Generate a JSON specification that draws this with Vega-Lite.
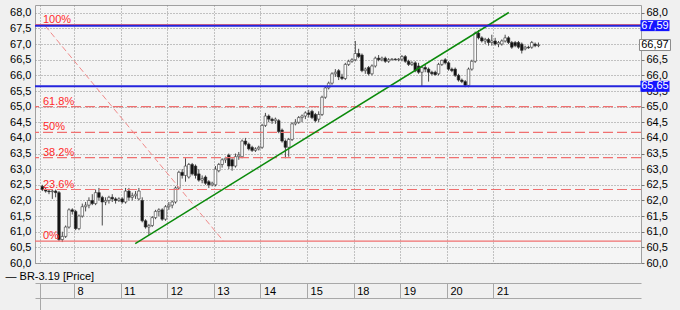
{
  "$schema": "https://vega.github.io/schema/vega-lite/v6.json",
  "width": 606,
  "height": 258,
  "autosize": {"type": "none"},
  "padding": {"left": 35, "top": 5, "right": 39, "bottom": 47},
  "background": "#f0f0f0",
  "config": {
    "font": "Liberation Sans",
    "view": {"fill": "#f5f5f5", "stroke": "#a0a0a0", "strokeWidth": 1},
    "axis": {"labelFont": "Liberation Sans", "labelFontSize": 11, "labelColor": "#000000", "titleFont": "Liberation Sans"}
  },
  "datasets": {
    "candles": [
      {"i":0,"o":62.45,"h":62.5,"l":62.3,"c":62.35},
      {"i":1,"o":62.35,"h":62.4,"l":62.25,"c":62.3},
      {"i":2,"o":62.3,"h":62.35,"l":62.2,"c":62.28},
      {"i":3,"o":62.28,"h":62.35,"l":62.05,"c":62.3},
      {"i":4,"o":62.3,"h":62.35,"l":62.1,"c":62.25},
      {"i":5,"o":62.25,"h":62.3,"l":60.7,"c":60.75},
      {"i":6,"o":60.75,"h":61.0,"l":60.67,"c":60.85},
      {"i":7,"o":60.85,"h":61.2,"l":60.8,"c":61.15},
      {"i":8,"o":61.15,"h":61.75,"l":61.1,"c":61.7},
      {"i":9,"o":61.7,"h":61.75,"l":61.55,"c":61.65},
      {"i":10,"o":61.65,"h":61.7,"l":61.05,"c":61.1},
      {"i":11,"o":61.1,"h":61.55,"l":61.05,"c":61.5},
      {"i":12,"o":61.5,"h":61.9,"l":61.45,"c":61.8},
      {"i":13,"o":61.8,"h":61.95,"l":61.65,"c":61.85},
      {"i":14,"o":61.85,"h":62.1,"l":61.75,"c":62.0},
      {"i":15,"o":62.0,"h":62.2,"l":61.85,"c":61.9},
      {"i":16,"o":61.9,"h":62.35,"l":61.85,"c":62.25},
      {"i":17,"o":62.25,"h":62.4,"l":62.0,"c":62.1},
      {"i":18,"o":62.1,"h":62.15,"l":61.2,"c":61.95},
      {"i":19,"o":61.95,"h":62.1,"l":61.85,"c":62.0},
      {"i":20,"o":62.0,"h":62.15,"l":61.9,"c":62.1},
      {"i":21,"o":62.1,"h":62.2,"l":61.95,"c":62.05},
      {"i":22,"o":62.05,"h":62.1,"l":61.9,"c":62.0},
      {"i":23,"o":62.0,"h":62.1,"l":61.95,"c":62.05},
      {"i":24,"o":62.05,"h":62.1,"l":61.9,"c":61.95},
      {"i":25,"o":61.95,"h":62.4,"l":61.9,"c":62.3},
      {"i":26,"o":62.3,"h":62.4,"l":62.0,"c":62.1},
      {"i":27,"o":62.1,"h":62.25,"l":62.0,"c":62.15},
      {"i":28,"o":62.15,"h":62.3,"l":62.05,"c":62.2},
      {"i":29,"o":62.05,"h":62.4,"l":62.0,"c":62.3},
      {"i":30,"o":62.0,"h":62.1,"l":61.3,"c":61.35},
      {"i":31,"o":61.35,"h":61.4,"l":61.1,"c":61.15},
      {"i":32,"o":61.15,"h":61.25,"l":60.9,"c":61.2},
      {"i":33,"o":61.2,"h":61.5,"l":61.15,"c":61.45},
      {"i":34,"o":61.45,"h":61.7,"l":61.4,"c":61.65},
      {"i":35,"o":61.65,"h":61.75,"l":61.5,"c":61.7},
      {"i":36,"o":61.7,"h":61.75,"l":61.35,"c":61.4},
      {"i":37,"o":61.4,"h":61.85,"l":61.35,"c":61.8},
      {"i":38,"o":61.8,"h":61.95,"l":61.7,"c":61.85},
      {"i":39,"o":61.85,"h":62.0,"l":61.75,"c":61.95},
      {"i":40,"o":61.95,"h":62.45,"l":61.9,"c":62.4},
      {"i":41,"o":62.4,"h":62.95,"l":62.35,"c":62.9},
      {"i":42,"o":62.9,"h":63.0,"l":62.7,"c":62.8},
      {"i":43,"o":62.8,"h":63.35,"l":62.6,"c":63.1},
      {"i":44,"o":62.75,"h":63.2,"l":62.7,"c":63.15},
      {"i":45,"o":63.15,"h":63.2,"l":62.8,"c":62.85},
      {"i":46,"o":63.1,"h":63.15,"l":62.7,"c":62.8},
      {"i":47,"o":62.85,"h":63.0,"l":62.6,"c":62.65},
      {"i":48,"o":62.65,"h":62.8,"l":62.55,"c":62.7},
      {"i":49,"o":62.75,"h":62.8,"l":62.5,"c":62.55},
      {"i":50,"o":62.6,"h":62.65,"l":62.4,"c":62.5},
      {"i":51,"o":62.5,"h":62.6,"l":62.45,"c":62.55},
      {"i":52,"o":62.5,"h":63.1,"l":62.45,"c":63.0},
      {"i":53,"o":62.95,"h":63.2,"l":62.9,"c":63.15},
      {"i":54,"o":63.15,"h":63.35,"l":63.05,"c":63.3},
      {"i":55,"o":63.3,"h":63.4,"l":63.2,"c":63.35},
      {"i":56,"o":63.45,"h":63.5,"l":63.0,"c":63.1},
      {"i":57,"o":63.3,"h":63.35,"l":62.95,"c":63.1},
      {"i":58,"o":63.1,"h":63.5,"l":63.05,"c":63.4},
      {"i":59,"o":63.4,"h":63.55,"l":63.3,"c":63.45},
      {"i":60,"o":63.4,"h":63.95,"l":63.35,"c":63.9},
      {"i":61,"o":63.9,"h":64.0,"l":63.75,"c":63.8},
      {"i":62,"o":63.8,"h":63.85,"l":63.6,"c":63.65},
      {"i":63,"o":63.7,"h":63.75,"l":63.55,"c":63.6},
      {"i":64,"o":63.6,"h":63.7,"l":63.55,"c":63.65},
      {"i":65,"o":63.65,"h":63.75,"l":63.6,"c":63.7},
      {"i":66,"o":63.7,"h":64.45,"l":63.65,"c":64.4},
      {"i":67,"o":64.4,"h":64.8,"l":64.35,"c":64.7},
      {"i":68,"o":64.7,"h":64.75,"l":64.5,"c":64.6},
      {"i":69,"o":64.6,"h":64.65,"l":64.45,"c":64.55},
      {"i":70,"o":64.55,"h":64.65,"l":64.45,"c":64.6},
      {"i":71,"o":64.55,"h":64.6,"l":64.15,"c":64.2},
      {"i":72,"o":64.25,"h":64.3,"l":63.85,"c":63.9},
      {"i":73,"o":63.9,"h":63.95,"l":63.35,"c":63.7},
      {"i":74,"o":63.7,"h":64.0,"l":63.4,"c":63.95},
      {"i":75,"o":63.95,"h":64.5,"l":63.9,"c":64.45},
      {"i":76,"o":64.45,"h":64.6,"l":64.4,"c":64.5},
      {"i":77,"o":64.5,"h":64.7,"l":64.45,"c":64.65},
      {"i":78,"o":64.65,"h":64.75,"l":64.5,"c":64.7},
      {"i":79,"o":64.7,"h":64.85,"l":64.6,"c":64.8},
      {"i":80,"o":64.8,"h":64.9,"l":64.65,"c":64.75},
      {"i":81,"o":64.85,"h":64.9,"l":64.6,"c":64.65},
      {"i":82,"o":64.75,"h":64.8,"l":64.5,"c":64.55},
      {"i":83,"o":64.6,"h":64.85,"l":64.5,"c":64.75},
      {"i":84,"o":64.75,"h":65.35,"l":64.7,"c":65.3},
      {"i":85,"o":65.3,"h":65.65,"l":65.25,"c":65.6},
      {"i":86,"o":65.6,"h":65.8,"l":65.55,"c":65.75},
      {"i":87,"o":65.75,"h":66.1,"l":65.7,"c":66.05},
      {"i":88,"o":66.05,"h":66.2,"l":65.95,"c":66.1},
      {"i":89,"o":66.15,"h":66.2,"l":65.85,"c":65.95},
      {"i":90,"o":65.95,"h":66.05,"l":65.85,"c":65.9},
      {"i":91,"o":65.9,"h":66.4,"l":65.85,"c":66.35},
      {"i":92,"o":66.35,"h":66.5,"l":66.3,"c":66.45},
      {"i":93,"o":66.45,"h":66.55,"l":66.4,"c":66.5},
      {"i":94,"o":66.5,"h":67.1,"l":66.45,"c":66.7},
      {"i":95,"o":66.7,"h":66.85,"l":66.55,"c":66.6},
      {"i":96,"o":66.65,"h":66.7,"l":66.1,"c":66.15},
      {"i":97,"o":66.15,"h":66.25,"l":66.05,"c":66.2},
      {"i":98,"o":66.25,"h":66.3,"l":66.0,"c":66.05},
      {"i":99,"o":66.05,"h":66.35,"l":66.0,"c":66.3},
      {"i":100,"o":66.3,"h":66.6,"l":66.25,"c":66.55},
      {"i":101,"o":66.55,"h":66.65,"l":66.45,"c":66.5},
      {"i":102,"o":66.5,"h":66.6,"l":66.45,"c":66.55},
      {"i":103,"o":66.55,"h":66.6,"l":66.4,"c":66.45},
      {"i":104,"o":66.45,"h":66.55,"l":66.4,"c":66.5},
      {"i":105,"o":66.5,"h":66.55,"l":66.48,"c":66.52},
      {"i":106,"o":66.52,"h":66.55,"l":66.48,"c":66.5},
      {"i":107,"o":66.5,"h":66.55,"l":66.45,"c":66.52},
      {"i":108,"o":66.52,"h":66.65,"l":66.45,"c":66.6},
      {"i":109,"o":66.6,"h":66.65,"l":66.4,"c":66.45},
      {"i":110,"o":66.45,"h":66.5,"l":66.3,"c":66.35},
      {"i":111,"o":66.35,"h":66.45,"l":66.3,"c":66.4},
      {"i":112,"o":66.4,"h":66.45,"l":66.1,"c":66.15},
      {"i":113,"o":66.3,"h":66.4,"l":66.05,"c":66.1},
      {"i":114,"o":66.1,"h":66.3,"l":65.63,"c":66.25},
      {"i":115,"o":66.25,"h":66.35,"l":66.1,"c":66.2},
      {"i":116,"o":66.2,"h":66.25,"l":65.8,"c":66.1},
      {"i":117,"o":66.1,"h":66.15,"l":66.0,"c":66.05},
      {"i":118,"o":66.1,"h":66.15,"l":66.0,"c":66.02},
      {"i":119,"o":66.05,"h":66.4,"l":66.0,"c":66.35},
      {"i":120,"o":66.35,"h":66.5,"l":66.3,"c":66.48},
      {"i":121,"o":66.5,"h":66.55,"l":66.35,"c":66.4},
      {"i":122,"o":66.4,"h":66.45,"l":66.15,"c":66.2},
      {"i":123,"o":66.2,"h":66.25,"l":66.1,"c":66.15},
      {"i":124,"o":66.2,"h":66.25,"l":65.95,"c":66.0},
      {"i":125,"o":66.0,"h":66.05,"l":65.8,"c":65.85},
      {"i":126,"o":65.85,"h":65.9,"l":65.75,"c":65.8},
      {"i":127,"o":65.8,"h":65.85,"l":65.62,"c":65.68},
      {"i":128,"o":65.68,"h":66.25,"l":65.62,"c":66.2},
      {"i":129,"o":66.2,"h":66.5,"l":66.15,"c":66.45},
      {"i":130,"o":66.45,"h":67.4,"l":66.4,"c":67.35},
      {"i":131,"o":67.35,"h":67.45,"l":67.15,"c":67.2},
      {"i":132,"o":67.2,"h":67.25,"l":67.05,"c":67.1},
      {"i":133,"o":67.1,"h":67.2,"l":67.0,"c":67.15},
      {"i":134,"o":67.15,"h":67.2,"l":66.95,"c":67.05},
      {"i":135,"o":67.05,"h":67.3,"l":66.95,"c":67.1},
      {"i":136,"o":67.1,"h":67.2,"l":66.95,"c":67.0},
      {"i":137,"o":67.0,"h":67.1,"l":66.9,"c":67.05},
      {"i":138,"o":67.0,"h":67.15,"l":66.95,"c":67.1},
      {"i":139,"o":67.1,"h":67.3,"l":67.05,"c":67.2},
      {"i":140,"o":67.2,"h":67.25,"l":67.0,"c":67.05},
      {"i":141,"o":67.05,"h":67.1,"l":66.85,"c":66.9},
      {"i":142,"o":67.05,"h":67.1,"l":66.9,"c":66.95},
      {"i":143,"o":67.05,"h":67.1,"l":66.85,"c":66.9},
      {"i":144,"o":67.0,"h":67.05,"l":66.7,"c":66.8},
      {"i":145,"o":66.85,"h":66.95,"l":66.8,"c":66.9},
      {"i":146,"o":66.9,"h":66.95,"l":66.85,"c":66.88},
      {"i":147,"o":66.9,"h":67.1,"l":66.85,"c":67.05},
      {"i":148,"o":67.0,"h":67.05,"l":66.9,"c":66.95},
      {"i":149,"o":66.95,"h":67.05,"l":66.9,"c":66.97}
    ],
    "fib": [
      {"lvl":"100%","v":67.62},
      {"lvl":"61.8%","v":65.0},
      {"lvl":"50%","v":64.18},
      {"lvl":"38.2%","v":63.37},
      {"lvl":"23.6%","v":62.35},
      {"lvl":"0%","v":60.7}
    ],
    "diag": [{"i":0.8,"v":67.59},{"i":54.4,"v":60.7}],
    "trend": [{"i":27.9,"v":60.62},{"i":140.1,"v":68.01}],
    "levels": [{"v":67.59,"t":"67,59"},{"v":65.65,"t":"65,65"}],
    "last": [{"v":66.97,"t":"66,97"}]
  },
  "resolve": {"axis": {"x": "independent", "y": "independent"}},
  "layer": [
    {
      "data": {"name": "candles"},
      "mark": {"type": "rule", "color": "#4a4a4a", "strokeWidth": 1},
      "encoding": {
        "x": {"field": "i", "type": "quantitative",
          "scale": {"domain": [-0.7, 178.3], "nice": false, "zero": false},
          "axis": {"orient": "bottom", "offset": 20,
            "values": [-0.7, 9.5, 23.5, 37.5, 51.5, 65.5, 79.5, 93.5, 107.5, 121.5, 135.5],
            "grid": true, "gridColor": "#8c8c8c", "gridDash": [1, 2], "gridWidth": 1,
            "tickSize": 15, "tickColor": "#a8a8a8", "domainColor": "#a8a8a8",
            "labelAlign": "left", "labelOffset": 3, "labelPadding": -13, "labelBaseline": "top",
            "labelExpr": "['','8','11','12','13','14','15','18','19','20','21'][indexof([-0.7,9.5,23.5,37.5,51.5,65.5,79.5,93.5,107.5,121.5,135.5], datum.value)]",
            "title": "— BR-3.19 [Price]", "titleX": -30, "titleY": -7, "titleAlign": "left", "titleBaseline": "middle",
            "titleFontSize": 11, "titleFontWeight": "normal", "titleColor": "#000000", "titleAngle": 0}},
        "y": {"field": "l", "type": "quantitative",
          "scale": {"domain": [60, 68.25], "nice": false, "zero": false},
          "axis": {"orient": "left", "values": [60,60.5,61,61.5,62,62.5,63,63.5,64,64.5,65,65.5,66,66.5,67,67.5,68],
            "labelExpr": "replace(format(datum.value, '.1f'), '.', ',')",
            "grid": true, "gridColor": "#8c8c8c", "gridDash": [1, 2], "gridWidth": 1,
            "ticks": false, "domain": false, "labelPadding": 4, "title": null}},
        "y2": {"field": "h"}
      }
    },
    {
      "data": {"name": "candles"},
      "mark": {"type": "bar", "size": 2.6, "stroke": "#333333", "strokeWidth": 0.6},
      "encoding": {
        "x": {"field": "i", "type": "quantitative", "axis": null},
        "y": {"field": "o", "type": "quantitative",
          "axis": {"orient": "right", "values": [60,60.5,61,61.5,62,62.5,63,63.5,64,64.5,65,65.5,66,66.5,68],
            "labelExpr": "replace(format(datum.value, '.1f'), '.', ',')",
            "grid": false, "ticks": true, "tickSize": 3, "tickColor": "#777777", "domain": false, "labelPadding": 2, "title": null}},
        "y2": {"field": "c"},
        "fill": {"condition": {"test": "datum.c >= datum.o", "value": "#ffffff"}, "value": "#111111"}
      }
    },
    {
      "data": {"name": "fib"},
      "mark": {"type": "rule", "color": "#f07070", "strokeWidth": 1.2},
      "encoding": {
        "y": {"field": "v", "type": "quantitative", "axis": null},
        "strokeDash": {"condition": {"test": "datum.lvl == '0%' || datum.lvl == '100%'", "value": [1, 0]}, "value": [10, 4]}
      }
    },
    {
      "data": {"name": "fib"},
      "mark": {"type": "text", "align": "left", "baseline": "alphabetic", "dx": 3, "dy": -2, "fontSize": 11, "color": "#ff2a2a", "font": "Liberation Sans"},
      "encoding": {
        "x": {"datum": -0.7, "type": "quantitative", "axis": null},
        "y": {"field": "v", "type": "quantitative", "axis": null},
        "text": {"field": "lvl"}
      }
    },
    {
      "data": {"name": "diag"},
      "mark": {"type": "line", "color": "#f08a8a", "strokeWidth": 1, "strokeDash": [6, 3]},
      "encoding": {
        "x": {"field": "i", "type": "quantitative", "axis": null},
        "y": {"field": "v", "type": "quantitative", "axis": null}
      }
    },
    {
      "data": {"name": "trend"},
      "mark": {"type": "line", "color": "#0b8a0b", "strokeWidth": 1.5},
      "encoding": {
        "x": {"field": "i", "type": "quantitative",
          "axis": {"orient": "bottom", "offset": 35, "values": [-0.7], "labels": false, "grid": false,
            "tickSize": 12, "tickColor": "#a8a8a8", "domainColor": "#a8a8a8", "title": null}},
        "y": {"field": "v", "type": "quantitative", "axis": null}
      }
    },
    {
      "data": {"name": "levels"},
      "mark": {"type": "rule", "color": "#2424dd", "strokeWidth": 2},
      "encoding": {
        "y": {"field": "v", "type": "quantitative", "axis": null}
      }
    },
    {
      "data": {"name": "levels"},
      "mark": {"type": "tick", "orient": "horizontal", "size": 29, "thickness": 11, "color": "#1414ff", "opacity": 1},
      "encoding": {
        "x": {"datum": 184, "type": "quantitative", "axis": null},
        "y": {"field": "v", "type": "quantitative", "axis": null}
      }
    },
    {
      "data": {"name": "last"},
      "mark": {"type": "tick", "orient": "horizontal", "size": 31, "thickness": 11, "color": "#ffffff", "stroke": "#8a8a8a", "strokeWidth": 1, "opacity": 1},
      "encoding": {
        "x": {"datum": 184, "type": "quantitative", "axis": null},
        "y": {"field": "v", "type": "quantitative", "axis": null}
      }
    },
    {
      "data": {"name": "levels"},
      "mark": {"type": "text", "align": "center", "baseline": "middle", "fontSize": 11, "color": "#ffffff", "font": "Liberation Sans"},
      "encoding": {
        "x": {"datum": 184, "type": "quantitative", "axis": null},
        "y": {"field": "v", "type": "quantitative", "axis": null},
        "text": {"field": "t"}
      }
    },
    {
      "data": {"name": "last"},
      "mark": {"type": "text", "align": "center", "baseline": "middle", "fontSize": 11, "color": "#000000", "font": "Liberation Sans"},
      "encoding": {
        "x": {"datum": 184, "type": "quantitative", "axis": null},
        "y": {"field": "v", "type": "quantitative", "axis": null},
        "text": {"field": "t"}
      }
    }
  ]
}
